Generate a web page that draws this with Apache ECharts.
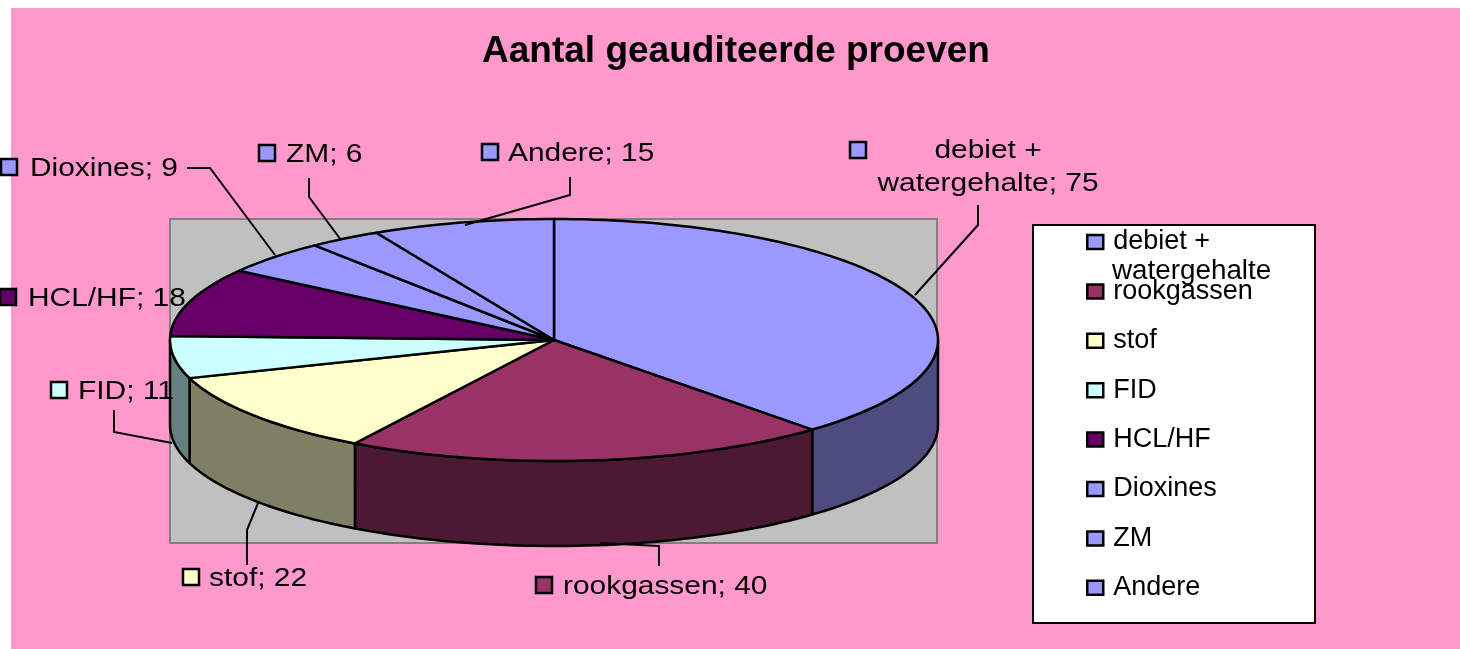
<!DOCTYPE html>
<html>
<head>
<meta charset="utf-8">
<title>Aantal geauditeerde proeven</title>
<style>
  html, body { margin: 0; padding: 0; background: #fff; }
  #main { width: 1460px; height: 649px; }
</style>
<script src="https://cdn.jsdelivr.net/npm/echarts@6/dist/echarts.min.js"></script>
</head>
<body>
<div id="main"></div>
<script>
const chartTitle = 'Aantal geauditeerde proeven'
const names = ['debiet + watergehalte', 'rookgassen', 'stof', 'FID', 'HCL/HF', 'Dioxines', 'ZM', 'Andere']
const values = [75, 40, 22, 11, 18, 9, 6, 15]

const topColors = ['#9999FF', '#993366', '#FFFFCC', '#CCFFFF', '#660066', '#9999FF', '#9999FF', '#9999FF']
const sideColors = ['#4C4C7F', '#4C1933', '#7F7F66', '#667F7F', '#330033', '#4C4C7F', '#4C4C7F', '#4C4C7F']

// pie geometry
const cx = 554, cy = 340, rx = 384, ry = 121, depth = 85
const font = 'Liberation Sans'
const textStretch = 1.15

// data label boxes, one per slice
const keyPos = [[850, 142], [536, 577], [183, 569], [51, 382], [0, 289], [1, 159], [259, 145], [482, 144]]
const textPos = [[988, 151], [563, 587], [209, 579], [78, 392], [28, 299], [30, 169], [286, 155], [508, 154]]
const leaders = [
  [[978, 205], [978, 225], [915, 295]],
  [[659, 566], [659, 546], [600, 543]],
  [[247, 565], [247, 530], [258, 503]],
  [[114, 410], [114, 432], [172, 443]],
  [],
  [[187, 168], [210, 168], [275, 255]],
  [[309, 178], [309, 197], [341, 240]],
  [[570, 177], [570, 195], [465, 225]]
]

const total = values.reduce((a, b) => a + b, 0)

function startAngle(i) {
  let sum = 0
  for (let k = 0; k < i; k++) sum += values[k]
  return sum / total * 360
}

function pt(deg, dy) {
  const t = deg * Math.PI / 180
  return [cx + rx * Math.sin(t), cy - ry * Math.cos(t) + dy]
}

function arc(from, to, dy) {
  const pts = []
  const n = Math.max(2, Math.ceil((to - from) / 1.5))
  for (let k = 0; k <= n; k++) pts.push(pt(from + (to - from) * k / n, dy))
  return pts
}

function renderSlice(i) {
  return function (params, api) {
    const from = startAngle(i)
    const to = from + api.value(0) / total * 360
    const children = []
    const line = { stroke: '#000', lineWidth: 2.5, lineJoin: 'round' }

    // side wall, only the front half of the rim shows
    const a = Math.max(from, 90), b = Math.min(to, 270)
    if (b > a) {
      children.push({
        type: 'polygon', z2: 1,
        shape: { points: arc(a, b, 0).concat(arc(a, b, depth).reverse()) },
        style: { fill: sideColors[i], ...line }
      })
    }
    children.push({
      type: 'polygon', z2: 2,
      shape: { points: [[cx, cy]].concat(arc(from, to, 0)) },
      style: { fill: topColors[i], ...line }
    })

    // leader line, key and label
    if (leaders[i].length) {
      children.push({
        type: 'polyline', z2: 3,
        shape: { points: leaders[i] },
        style: { fill: 'none', stroke: '#000', lineWidth: 2 }
      })
    }
    children.push({
      type: 'rect', z2: 4,
      shape: { x: keyPos[i][0], y: keyPos[i][1], width: 16, height: 16 },
      style: { fill: topColors[i], stroke: '#000', lineWidth: 2.5 }
    })
    const wrapped = names[i].indexOf(' + ') > 0
    children.push({
      type: 'text', z2: 5,
      x: textPos[i][0], y: wrapped ? textPos[i][1] - 17 : textPos[i][1], scaleX: textStretch,
      style: {
        text: names[i].replace(' + ', ' +\n') + '; ' + api.value(0),
        fill: '#000',
        font: '26px "' + font + '"',
        lineHeight: 33,
        align: wrapped ? 'center' : 'left',
        verticalAlign: wrapped ? 'top' : 'middle'
      }
    })
    return { type: 'group', children: children }
  }
}

const series = names.map((name, i) => ({
  name: name,
  type: 'custom',
  coordinateSystem: 'none',
  silent: true,
  itemStyle: { color: topColors[i] },
  renderItem: renderSlice(i),
  data: [[values[i]]]
}))

const myChart = echarts.init(document.querySelector('#main'))
const option = {
  animation: false,
  backgroundColor: '#fff',
  title: {
    text: chartTitle,
    left: 731,
    top: 28,
    textAlign: 'center',
    textStyle: { fontFamily: font, fontWeight: 'bold', fontSize: 37, color: '#000' }
  },
  legend: {
    orient: 'vertical',
    left: 1086,
    top: 227.5,
    padding: 0,
    selectedMode: false,
    icon: 'rect',
    itemWidth: 16,
    itemHeight: 14,
    itemGap: 20.4,
    itemStyle: { borderColor: '#000', borderWidth: 2.5 },
    textStyle: { fontFamily: font, fontSize: 27, lineHeight: 26, color: '#000', padding: [3, 0, 0, 5] },
    formatter: name => name.split(' + ').length > 1 ? name.split(' + ')[0] + ' +' : name,
    data: names
  },
  graphic: [
    { type: 'rect', z: -3, shape: { x: 11, y: 8, width: 1449, height: 641 }, style: { fill: '#FF99CC' } },
    { type: 'rect', z: -2, shape: { x: 170, y: 219, width: 767, height: 324 }, style: { fill: '#C0C0C0', stroke: '#808080', lineWidth: 2 } },
    { type: 'rect', z: -2, shape: { x: 1033, y: 225, width: 282, height: 398 }, style: { fill: '#fff', stroke: '#000', lineWidth: 2 } },
    {
      type: 'text', z: 5, x: 1112, y: 272, scaleX: 1.03,
      style: { text: names[0].split(' + ')[1], fill: '#000', font: '27px "' + font + '"', verticalAlign: 'middle' }
    }
  ],
  series: series
}
myChart.setOption(option)
</script>
</body>
</html>
